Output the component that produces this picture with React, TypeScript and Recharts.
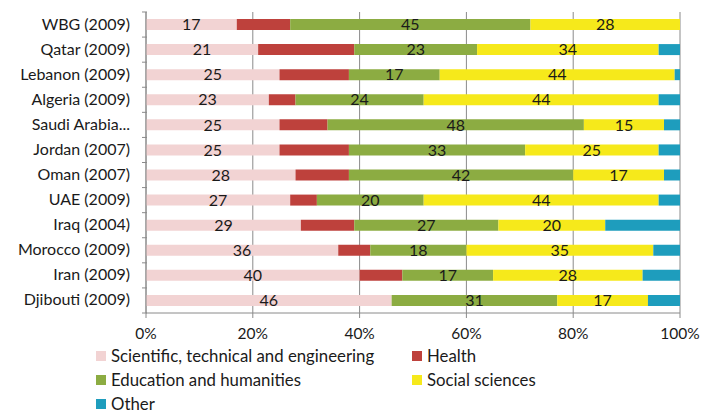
import { BarChart, Bar, XAxis, YAxis, CartesianGrid, LabelList } from 'recharts'

const categories = [
    'WBG (2009)',
    'Qatar (2009)',
    'Lebanon (2009)',
    'Algeria (2009)',
    'Saudi Arabia...',
    'Jordan (2007)',
    'Oman (2007)',
    'UAE (2009)',
    'Iraq (2004)',
    'Morocco (2009)',
    'Iran (2009)',
    'Djibouti (2009)',
]
const scientific = [17, 21, 25, 23, 25, 25, 28, 27, 29, 36, 40, 46]
const health = [10, 18, 13, 5, 9, 13, 10, 5, 10, 6, 8, 0]
const education = [45, 23, 17, 24, 48, 33, 42, 20, 27, 18, 17, 31]
const social = [28, 34, 44, 44, 15, 25, 17, 44, 20, 35, 28, 17]
const other = [0, 4, 1, 4, 3, 4, 3, 4, 14, 5, 7, 6]
const xTicks = [0, 20, 40, 60, 80, 100]

const series = [
    { key: 'scientific', name: 'Scientific, technical and engineering', color: '#F2D3D3', label: true },
    { key: 'health', name: 'Health', color: '#BE413C', label: false },
    { key: 'education', name: 'Education and humanities', color: '#8CAC42', label: true },
    { key: 'social', name: 'Social sciences', color: '#F6E91B', label: true },
    { key: 'other', name: 'Other', color: '#1E9DBD', label: false },
]

const data = categories.map((name, i) => ({
    name,
    scientific: scientific[i],
    health: health[i],
    education: education[i],
    social: social[i],
    other: other[i],
}))

const FONT = 'Lato, "Noto Sans", sans-serif'
const AXIS = '#8a8a8a'

// Excel-style ticks sit between categories, not on them
const CategoryTick = ({ x, y, payload, index }: any) => {
    const half = 12.55
    return (
        <g>
            <line x1={x + 4} x2={x + 9} y1={y + half} y2={y + half} stroke={AXIS} />
            {index === 0 && <line x1={x + 4} x2={x + 9} y1={y - half} y2={y - half} stroke={AXIS} />}
            <text x={x - 8} y={y} dy={5} textAnchor="end" fontSize={16} fill="#1a1a1a" fontFamily={FONT}>
                {payload.value}
            </text>
        </g>
    )
}

const App = () => {
    return (
        <div style={{ position: 'absolute', left: 0, top: 0, width: 701, height: 414, background: '#fff' }}>
            <BarChart
                width={701}
                height={414}
                data={data}
                layout="vertical"
                margin={{ top: 12, right: 21, left: 0, bottom: 71 }}
                barSize={11}
            >
                <CartesianGrid horizontal={false} stroke={AXIS} />
                <XAxis
                    type="number"
                    domain={[0, 100]}
                    ticks={xTicks}
                    tickFormatter={(v: number) => v + '%'}
                    stroke={AXIS}
                    tickSize={5}
                    tickMargin={10}
                    tick={{ fontSize: 15.5, fill: '#1a1a1a', fontFamily: FONT }}
                    allowDataOverflow
                />
                <YAxis
                    type="category"
                    dataKey="name"
                    width={146}
                    stroke={AXIS}
                    tickLine={false}
                    tick={<CategoryTick />}
                    interval={0}
                />
                {series.map((s) => (
                    <Bar key={s.key} dataKey={s.key} name={s.name} stackId="a" fill={s.color} isAnimationActive={false}>
                        {s.label && (
                            <LabelList
                                dataKey={s.key}
                                position="center"
                                fill="#1a1a1a"
                                fontSize={16}
                                fontFamily={FONT}
                                offset={0}
                            />
                        )}
                    </Bar>
                ))}
            </BarChart>
            <div
                style={{
                    position: 'absolute',
                    left: 96,
                    top: 347,
                    width: 460,
                    display: 'grid',
                    gridTemplateColumns: '316px 140px',
                    rowGap: 6,
                    fontFamily: FONT,
                    fontSize: 16.8,
                    lineHeight: '18px',
                    color: '#1a1a1a',
                }}
            >
                {series.map((s) => (
                    <div key={s.key} style={{ display: 'flex', alignItems: 'center', height: 18, whiteSpace: 'nowrap' }}>
                        <span style={{ width: 10, height: 10, background: s.color, marginRight: 5, display: 'inline-block', flex: 'none' }} />
                        <span>{s.name}</span>
                    </div>
                ))}
            </div>
        </div>
    )
}

export default App
